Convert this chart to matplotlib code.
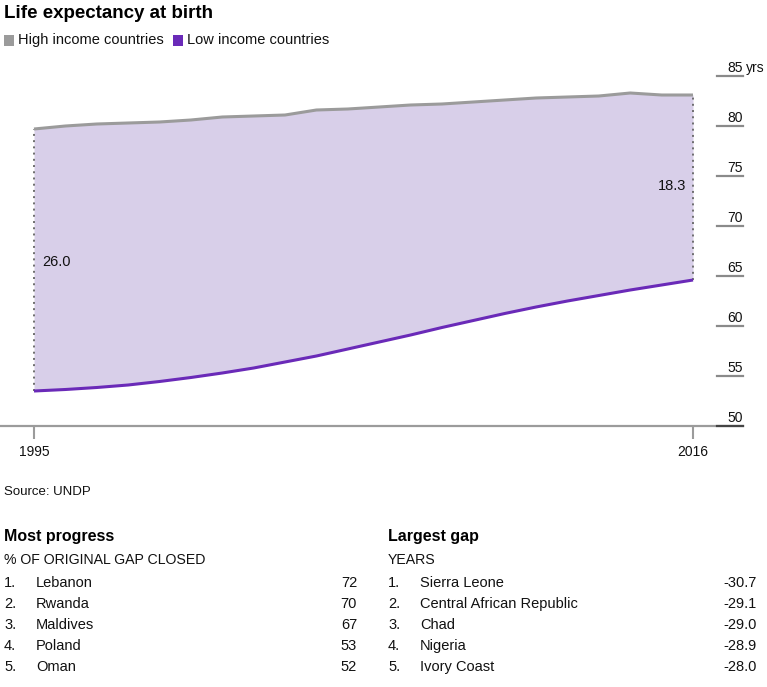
import matplotlib
matplotlib.use("Agg")
import matplotlib.pyplot as plt
from matplotlib.patches import Rectangle

W, H = 767, 687
plt.rcParams['font.family'] = ['Liberation Sans', 'DejaVu Sans']

years = list(range(1995, 2017))
high_income = [79.7, 80.0, 80.2, 80.3, 80.4, 80.6, 80.9, 81.0, 81.1, 81.6, 81.7,
               81.9, 82.1, 82.2, 82.4, 82.6, 82.8, 82.9, 83.0, 83.3, 83.1, 83.1]
low_income = [53.5, 53.65, 53.85, 54.1, 54.45, 54.85, 55.3, 55.8, 56.4, 57.0, 57.7,
              58.4, 59.1, 59.85, 60.55, 61.25, 61.9, 62.5, 63.05, 63.6, 64.1, 64.6]
gap_start_label = "26.0"
gap_end_label = "18.3"
y_ticks = [50, 55, 60, 65, 70, 75, 80, 85]
x_tick_years = [1995, 2016]

progress_countries = ["Lebanon", "Rwanda", "Maldives", "Poland", "Oman"]
progress_values = ["72", "70", "67", "53", "52"]
gap_countries = ["Sierra Leone", "Central African Republic", "Chad", "Nigeria", "Ivory Coast"]
gap_values = ["-30.7", "-29.1", "-29.0", "-28.9", "-28.0"]

GRAY = "#9b9b9b"
PURPLE = "#6a2ab8"
FILL = "#d8cfe9"

fig = plt.figure(figsize=(W / 100, H / 100), dpi=100)

def px(x, y):
    return x / W, 1 - y / H

def ftext(x, y, s, **kw):
    fx, fy = px(x, y)
    fig.text(fx, fy, s, **kw)

# axes placement in pixels
ax_left, ax_right, ax_top, ax_bottom = 0, 743, 60, 426
ax = fig.add_axes([ax_left / W, 1 - ax_bottom / H, (ax_right - ax_left) / W, (ax_bottom - ax_top) / H])
ppy = (693 - 34) / 21.0
ax.set_xlim(1995 - 34 / ppy, 2016 + (743 - 693) / ppy)
ax.set_ylim(50, 50 + (ax_bottom - ax_top) / 10.0)

ax.fill_between(years, low_income, high_income, color=FILL, lw=0, zorder=1)
ax.plot(years, high_income, color=GRAY, lw=2.2, zorder=3, solid_capstyle='butt')
ax.plot(years, low_income, color=PURPLE, lw=2.2, zorder=3, solid_capstyle='butt',
        solid_joinstyle='round')
for i in (0, -1):
    ax.plot([years[i], years[i]], [low_income[i], high_income[i]], color="#6e6e6e",
            lw=1.4, ls=(0, (1, 2.2)), zorder=2)

ax.text(years[0] + 8 / ppy, (high_income[0] + low_income[0]) / 2 - 0.2, gap_start_label,
        ha='left', va='center', fontsize=10.5, color="#111111")
ax.text(years[-1] - 7 / ppy, 74.0, gap_end_label,
        ha='right', va='center', fontsize=10.5, color="#111111")

for s in ('top', 'right', 'left'):
    ax.spines[s].set_visible(False)
ax.spines['bottom'].set_color(GRAY)
ax.spines['bottom'].set_linewidth(1.6)
ax.set_yticks([])
ax.set_xticks(x_tick_years)
ax.set_xticklabels([str(y) for y in x_tick_years], fontsize=10)
ax.tick_params(axis='x', length=9, width=1.5, color=GRAY, pad=5, labelcolor="#111111")

ytr = ax.get_yaxis_transform()
tick_x0 = (717 - ax_left) / (ax_right - ax_left)
for v in y_ticks:
    ax.plot([tick_x0, 1.0], [v, v], transform=ytr, color="#444444" if v == 50 else "#8a8a8a",
            lw=1.6, clip_on=False, zorder=4)
    ax.text(1.0, v + 0.8, str(v), transform=ytr, ha='right', va='center',
            fontsize=10, color="#111111")
ax.text(1.0 + 3 / (ax_right - ax_left), y_ticks[-1] + 0.8, "yrs", transform=ytr,
        ha='left', va='center', fontsize=10, color="#111111")

# Title and legend
ftext(4, 14, "Life expectancy at birth", fontsize=13.5, fontweight='bold', va='center', color="#000000")
for (lx, color, label) in [(4, GRAY, "High income countries"), (173, PURPLE, "Low income countries")]:
    fx, fy = px(lx, 46)
    fig.patches.append(Rectangle((fx, fy), 10 / W, 11 / H, transform=fig.transFigure,
                                 color=color, lw=0))
    ftext(lx + 14, 40, label, fontsize=10.5, va='center', color="#111111")

ftext(4, 492, "Source: UNDP", fontsize=9.5, va='center', color="#111111")

# Tables
def table(x0, val_x, heading, sub, names, vals):
    ftext(x0, 537, heading, fontsize=11.5, fontweight='bold', va='center', color="#000000")
    ftext(x0, 560, sub, fontsize=10.2, va='center', color="#111111")
    for i, (n, v) in enumerate(zip(names, vals)):
        y = 583 + i * 21
        ftext(x0, y, f"{i + 1}.", fontsize=10.5, va='center', color="#111111")
        ftext(x0 + 32, y, n, fontsize=10.5, va='center', color="#111111")
        ftext(val_x, y, v, fontsize=10.5, va='center', ha='right', color="#111111")

table(4, 357, "Most progress", "% OF ORIGINAL GAP CLOSED", progress_countries, progress_values)
table(388, 757, "Largest gap", "YEARS", gap_countries, gap_values)

fig.savefig("out.png", dpi=100)
